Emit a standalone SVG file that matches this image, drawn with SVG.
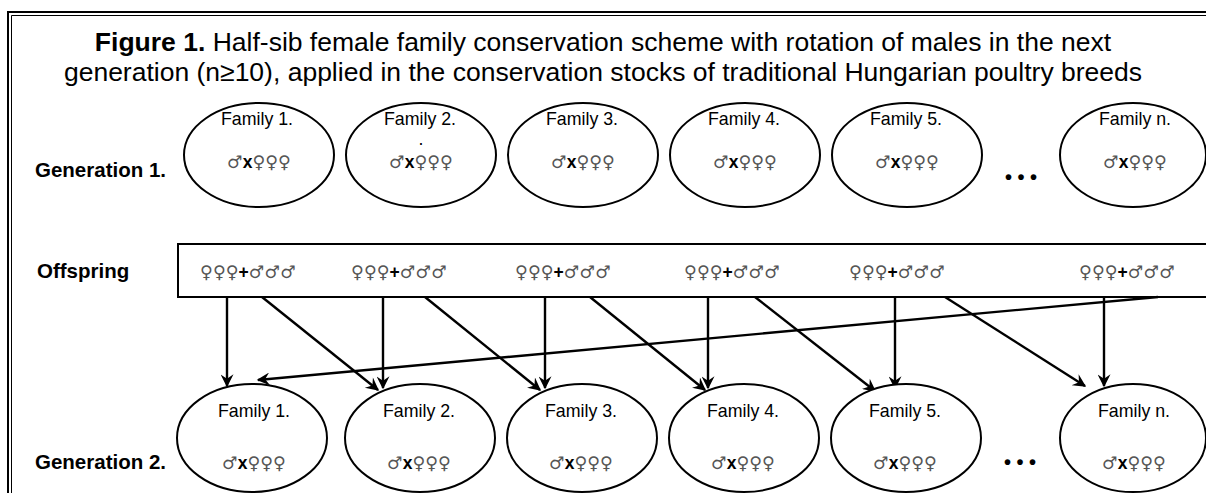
<svg xmlns="http://www.w3.org/2000/svg" width="1206" height="493" viewBox="0 0 1206 493">
<style>
text{font-family:"Liberation Sans",Arial,sans-serif;fill:#000}
.title{font-size:26.5px;text-anchor:middle}
.lbl{font-size:20.5px;font-weight:bold}
.fam{font-size:17.8px;text-anchor:middle}
.sym{font-size:17.5px;text-anchor:middle;font-family:"DejaVu Sans",sans-serif}
.g{fill:#555;font-weight:normal}
.b{font-weight:bold;fill:#000;font-family:"Liberation Sans",Arial,sans-serif}
.node{fill:#fff;stroke:#000;stroke-width:2}
.edge{stroke:#000;stroke-width:2.4;fill:none;marker-end:url(#ah)}
.frame{fill:none;stroke:#000}
.dots{font-size:20px;font-weight:bold;text-anchor:middle}
</style>
<defs>
<marker id="ah" viewBox="0 0 10 10" refX="9" refY="5" markerWidth="14" markerHeight="13" markerUnits="userSpaceOnUse" orient="auto">
<path d="M0,0 L10,5 L0,10 L3.5,5 z" fill="#000"/>
</marker>
</defs>
<rect width="1206" height="493" fill="#fff"/>
<g id="frame">
<path class="frame" stroke-width="2" d="M8,493 V12 H1206"/>
<path class="frame" stroke-width="1" d="M11.5,493 V15.5 H1206"/>
</g>
<g id="title">
<text class="title" x="603" y="51"><tspan font-weight="bold">Figure 1.</tspan> Half-sib female family conservation scheme with rotation of males in the next</text>
<text class="title" x="603" y="81">generation (n≥10), applied in the conservation stocks of traditional Hungarian poultry breeds</text>
</g>
<g id="labels">
<text class="lbl" x="35" y="177">Generation 1.</text>
<text class="lbl" x="37" y="278">Offspring</text>
<text class="lbl" x="35" y="469">Generation 2.</text>
</g>
<g id="gen1">
<g id="g1f1"><ellipse class="node" cx="259" cy="155" rx="75" ry="52"/><text class="fam" x="257" y="125">Family 1.</text><text class="sym" x="259" y="168"><tspan class="g">♂</tspan><tspan class="b">x</tspan><tspan class="g">♀♀♀</tspan></text></g>
<g id="g1f2"><ellipse class="node" cx="421" cy="155" rx="75" ry="52"/><text class="fam" x="420" y="125">Family 2.</text><text class="fam" x="421" y="145">.</text><text class="sym" x="421" y="168"><tspan class="g">♂</tspan><tspan class="b">x</tspan><tspan class="g">♀♀♀</tspan></text></g>
<g id="g1f3"><ellipse class="node" cx="583" cy="155" rx="75" ry="52"/><text class="fam" x="582" y="125">Family 3.</text><text class="sym" x="583" y="168"><tspan class="g">♂</tspan><tspan class="b">x</tspan><tspan class="g">♀♀♀</tspan></text></g>
<g id="g1f4"><ellipse class="node" cx="745" cy="155" rx="75" ry="52"/><text class="fam" x="744" y="125">Family 4.</text><text class="sym" x="745" y="168"><tspan class="g">♂</tspan><tspan class="b">x</tspan><tspan class="g">♀♀♀</tspan></text></g>
<g id="g1f5"><ellipse class="node" cx="907" cy="155" rx="75" ry="52"/><text class="fam" x="906" y="125">Family 5.</text><text class="sym" x="907" y="168"><tspan class="g">♂</tspan><tspan class="b">x</tspan><tspan class="g">♀♀♀</tspan></text></g>
<text class="dots" x="1021" y="184">• • •</text>
<g id="g1fn"><ellipse class="node" cx="1133" cy="155" rx="73" ry="52"/><text class="fam" x="1135" y="125">Family n.</text><text class="sym" x="1135" y="168"><tspan class="g">♂</tspan><tspan class="b">x</tspan><tspan class="g">♀♀♀</tspan></text></g>
</g>
<g id="offspring">
<rect class="node" x="178" y="244" width="1040" height="53"/>
<text class="sym" x="248" y="278"><tspan class="g">♀♀♀</tspan><tspan class="b">+</tspan><tspan class="g">♂♂♂</tspan></text>
<text class="sym" x="399" y="278"><tspan class="g">♀♀♀</tspan><tspan class="b">+</tspan><tspan class="g">♂♂♂</tspan></text>
<text class="sym" x="563" y="278"><tspan class="g">♀♀♀</tspan><tspan class="b">+</tspan><tspan class="g">♂♂♂</tspan></text>
<text class="sym" x="732" y="278"><tspan class="g">♀♀♀</tspan><tspan class="b">+</tspan><tspan class="g">♂♂♂</tspan></text>
<text class="sym" x="897" y="278"><tspan class="g">♀♀♀</tspan><tspan class="b">+</tspan><tspan class="g">♂♂♂</tspan></text>
<text class="sym" x="1127" y="278"><tspan class="g">♀♀♀</tspan><tspan class="b">+</tspan><tspan class="g">♂♂♂</tspan></text>
</g>
<g id="connectors">
<line class="edge" x1="227" y1="297" x2="227" y2="386"/>
<line class="edge" x1="383" y1="297" x2="383" y2="388"/>
<line class="edge" x1="545" y1="297" x2="545" y2="388"/>
<line class="edge" x1="708" y1="297" x2="708" y2="388"/>
<line class="edge" x1="895" y1="297" x2="895" y2="388"/>
<line class="edge" x1="1104" y1="297" x2="1104" y2="386"/>
<line class="edge" x1="262" y1="297" x2="378" y2="390"/>
<line class="edge" x1="425" y1="297" x2="540" y2="390"/>
<line class="edge" x1="590" y1="297" x2="705" y2="390"/>
<line class="edge" x1="755" y1="297" x2="875" y2="391"/>
<line class="edge" x1="945" y1="297" x2="1085" y2="386"/>
<line class="edge" x1="1158" y1="297" x2="258" y2="380"/>
</g>
<g id="gen2">
<g id="g2f1"><ellipse class="node" cx="252" cy="438" rx="75" ry="54"/><text class="fam" x="254" y="417">Family 1.</text><text class="sym" x="254" y="469"><tspan class="g">♂</tspan><tspan class="b">x</tspan><tspan class="g">♀♀♀</tspan></text></g>
<g id="g2f2"><ellipse class="node" cx="420" cy="438" rx="75" ry="54"/><text class="fam" x="419" y="417">Family 2.</text><text class="sym" x="419" y="469"><tspan class="g">♂</tspan><tspan class="b">x</tspan><tspan class="g">♀♀♀</tspan></text></g>
<g id="g2f3"><ellipse class="node" cx="582" cy="438" rx="75" ry="54"/><text class="fam" x="581" y="417">Family 3.</text><text class="sym" x="581" y="469"><tspan class="g">♂</tspan><tspan class="b">x</tspan><tspan class="g">♀♀♀</tspan></text></g>
<g id="g2f4"><ellipse class="node" cx="744" cy="438" rx="75" ry="54"/><text class="fam" x="743" y="417">Family 4.</text><text class="sym" x="743" y="469"><tspan class="g">♂</tspan><tspan class="b">x</tspan><tspan class="g">♀♀♀</tspan></text></g>
<g id="g2f5"><ellipse class="node" cx="906" cy="438" rx="75" ry="54"/><text class="fam" x="905" y="417">Family 5.</text><text class="sym" x="905" y="469"><tspan class="g">♂</tspan><tspan class="b">x</tspan><tspan class="g">♀♀♀</tspan></text></g>
<text class="dots" x="1020" y="469">• • •</text>
<g id="g2fn"><ellipse class="node" cx="1133" cy="438" rx="73" ry="54"/><text class="fam" x="1134" y="417">Family n.</text><text class="sym" x="1134" y="469"><tspan class="g">♂</tspan><tspan class="b">x</tspan><tspan class="g">♀♀♀</tspan></text></g>
</g>
</svg>
